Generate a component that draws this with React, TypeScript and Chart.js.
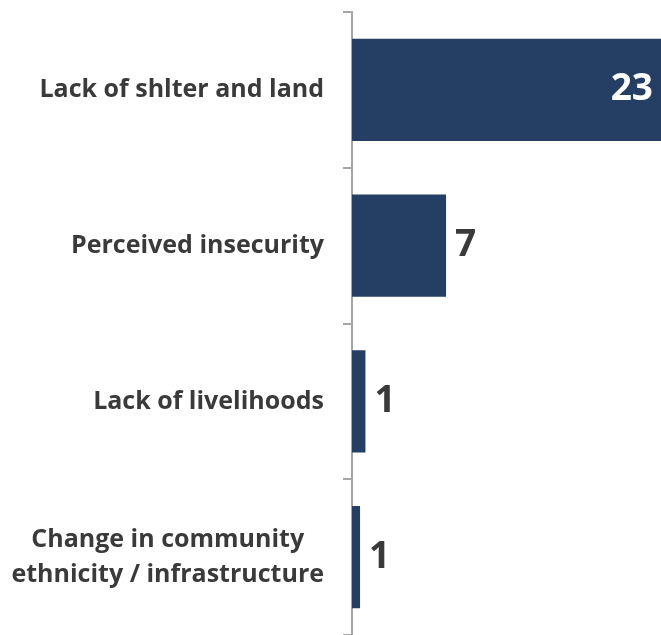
import React, { useEffect, useRef } from "react";
import { Chart, registerables } from "chart.js";

Chart.register(...registerables);

const categories: string[][] = [
  ["Lack of shlter and land"],
  ["Perceived insecurity"],
  ["Lack of livelihoods"],
  ["Change in community", "ethnicity / infrastructure"],
];
const barValues: number[] = [23, 7, 1, 0.6];
const valueLabels: string[] = ["23", "7", "1", "1"];

const BAR_COLOR = "#243f63";
const TEXT_COLOR = "#3a3a3a";
const AXIS_COLOR = "#a6a6a6";
const FONT = "'Open Sans', 'DejaVu Sans', sans-serif";

const labelPlugin = {
  id: "customLabels",
  afterDraw(chart: any) {
    const ctx = chart.ctx;
    const yScale = chart.scales.y;
    const meta = chart.getDatasetMeta(0);
    ctx.save();
    // category labels
    ctx.font = `bold 25px ${FONT}`;
    ctx.fillStyle = TEXT_COLOR;
    ctx.textBaseline = "middle";
    ctx.textAlign = "center";
    const rightEdge = 324;
    const lineH = 35;
    categories.forEach((lines, i) => {
      const yc = yScale.getPixelForValue(i);
      const maxW = Math.max(...lines.map((l) => ctx.measureText(l).width));
      const cx = rightEdge - maxW / 2;
      const startY = yc - ((lines.length - 1) * lineH) / 2;
      lines.forEach((l, j) => ctx.fillText(l, cx, startY + j * lineH));
    });
    // value labels
    ctx.font = `bold 37px ${FONT}`;
    meta.data.forEach((bar: any, i: number) => {
      const w = bar.x - bar.base;
      if (w > 150) {
        ctx.fillStyle = "#ffffff";
        ctx.textAlign = "right";
        ctx.fillText(valueLabels[i], bar.x - 8, bar.y);
      } else {
        ctx.fillStyle = TEXT_COLOR;
        ctx.textAlign = "left";
        ctx.fillText(valueLabels[i], bar.x + 9, bar.y);
      }
    });
    ctx.restore();
  },
};

export default function App() {
  const ref = useRef<HTMLCanvasElement | null>(null);
  useEffect(() => {
    if (!ref.current) return;
    const chart = new Chart(ref.current, {
      type: "bar",
      data: {
        labels: categories.map((c) => c.join(" ")),
        datasets: [
          {
            data: barValues,
            backgroundColor: BAR_COLOR,
            borderWidth: 0,
            barPercentage: 0.655,
            categoryPercentage: 1,
          },
        ],
      },
      options: {
        indexAxis: "y",
        animation: false,
        responsive: false,
        maintainAspectRatio: false,
        layout: { padding: { top: 12, bottom: 0, left: 0, right: 0 } },
        plugins: {
          legend: { display: false },
          tooltip: { enabled: false },
        },
        scales: {
          x: {
            display: false,
            min: 0,
            max: 23,
          },
          y: {
            offset: true,
            afterFit(scale: any) {
              scale.width = 352;
            },
            ticks: { display: false },
            grid: {
              offset: true,
              drawOnChartArea: false,
              drawTicks: true,
              tickLength: 9,
              color: AXIS_COLOR,
              lineWidth: 2,
            },
            border: { display: true, color: AXIS_COLOR, width: 2 },
          },
        },
      },
      plugins: [labelPlugin],
    } as any);
    return () => chart.destroy();
  }, []);
  return (
    <div style={{ position: "fixed", left: 0, top: 0, width: 661, height: 635, background: "#fff" }}>
      <canvas ref={ref} width={661} height={635} style={{ display: "block" }} />
    </div>
  );
}
